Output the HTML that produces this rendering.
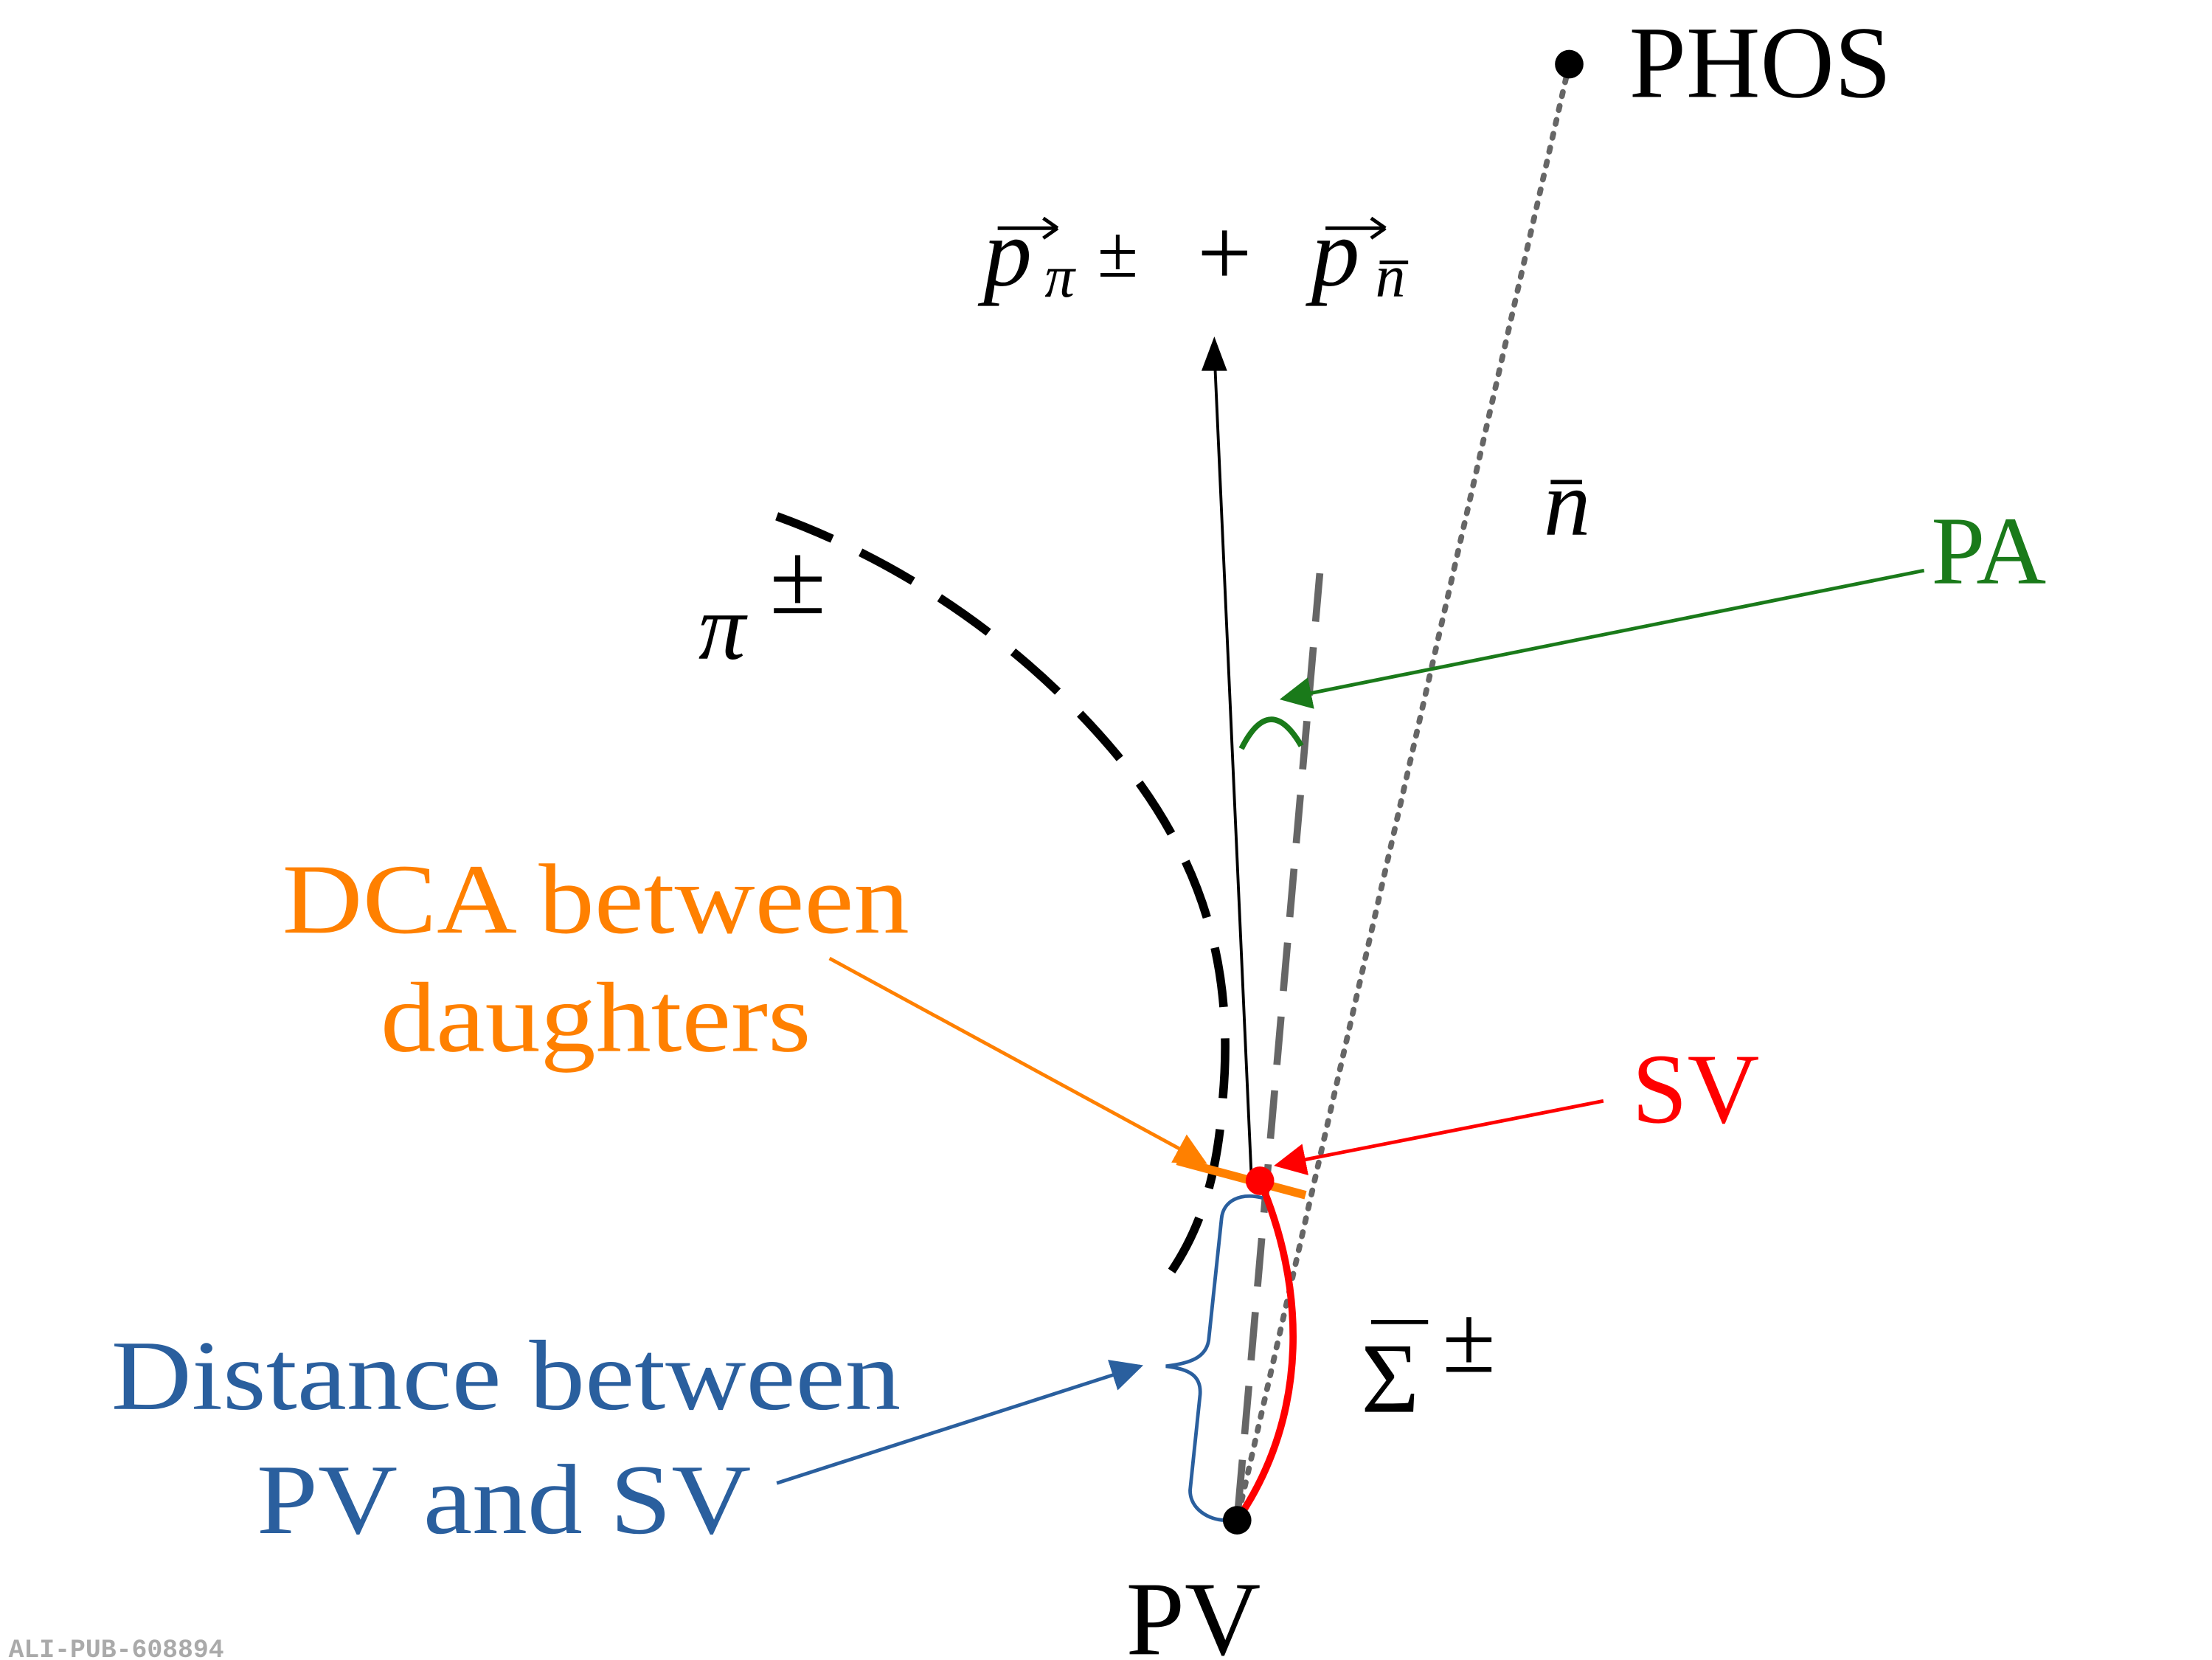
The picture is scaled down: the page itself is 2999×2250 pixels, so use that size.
<!DOCTYPE html>
<html><head><meta charset="utf-8"><style>
html,body{margin:0;padding:0;background:#fff;}
svg{display:block;}
text{font-family:"Liberation Serif",serif;}
</style></head><body>
<svg width="2999" height="2250" viewBox="0 0 1552 1164" preserveAspectRatio="none" xmlns="http://www.w3.org/2000/svg">
<defs>
<marker id="ag" viewBox="0 0 10 10" refX="9" refY="5" markerWidth="9" markerHeight="9" orient="auto"><path d="M0,0 L10,5 L0,10 z" fill="#1a7a1a"/></marker>
<marker id="ao" viewBox="0 0 10 10" refX="9" refY="5" markerWidth="9" markerHeight="9" orient="auto"><path d="M0,0 L10,5 L0,10 z" fill="#ff8000"/></marker>
<marker id="ar" viewBox="0 0 10 10" refX="9" refY="5" markerWidth="9" markerHeight="9" orient="auto"><path d="M0,0 L10,5 L0,10 z" fill="#f00"/></marker>
<marker id="ab" viewBox="0 0 10 10" refX="9" refY="5" markerWidth="9" markerHeight="9" orient="auto"><path d="M0,0 L10,5 L0,10 z" fill="#2a5f9e"/></marker>
</defs>

<line x1="1101" y1="45" x2="868" y2="1066" stroke="#666" stroke-width="4" stroke-dasharray="3,7" stroke-linecap="round"/>
<circle cx="1101" cy="45" r="10" fill="#000"/>
<text x="1143" y="68" font-size="72">PHOS</text>

<line x1="878" y1="825" x2="852" y2="246" stroke="#000" stroke-width="2"/>
<path d="M852,236 L843,260 L861,260 z" fill="#000"/>
<text x="690" y="200" font-size="68" font-style="italic">p</text>
<text x="733" y="208" font-size="42" font-style="italic">π</text>
<text x="770" y="194" font-size="52">±</text>
<text x="840" y="200" font-size="68">+</text>
<text x="920" y="200" font-size="68" font-style="italic">p</text>
<text x="965" y="208" font-size="42" font-style="italic">n</text>
<line x1="968" y1="184" x2="988" y2="184" stroke="#000" stroke-width="2.5"/>
<line x1="700" y1="160" x2="740" y2="160" stroke="#000" stroke-width="2.5"/>
<path d="M742,160 L732,153 M742,160 L732,167" stroke="#000" stroke-width="2.5" fill="none"/>
<line x1="930" y1="160" x2="970" y2="160" stroke="#000" stroke-width="2.5"/>
<path d="M972,160 L962,153 M972,160 L962,167" stroke="#000" stroke-width="2.5" fill="none"/>

<path d="M545,362 C650,400 740,470 800,550 C850,620 865,690 858,770 C854,830 840,870 812,905" fill="none" stroke="#000" stroke-width="6" stroke-dasharray="42,22"/>
<text x="490" y="462" font-size="66" font-style="italic">π</text>
<text x="540" y="430" font-size="72">±</text>

<line x1="926" y1="402" x2="868" y2="1066" stroke="#666" stroke-width="5" stroke-dasharray="34,18"/>
<text x="1083" y="375" font-size="66" font-style="italic">n</text>
<line x1="1088" y1="338" x2="1110" y2="338" stroke="#000" stroke-width="3"/>

<text x="1355" y="409" font-size="68" fill="#1a7a1a">PA</text>
<line x1="1350" y1="400" x2="900" y2="490" stroke="#1a7a1a" stroke-width="2.5" marker-end="url(#ag)"/>
<path d="M871,525 Q891,485 913,523" fill="none" stroke="#1a7a1a" stroke-width="4"/>

<text x="198" y="654" font-size="70" fill="#ff8000" textLength="440" lengthAdjust="spacingAndGlyphs">DCA between</text>
<text x="267" y="737" font-size="70" fill="#ff8000" textLength="302" lengthAdjust="spacingAndGlyphs">daughters</text>
<line x1="582" y1="672" x2="845" y2="815" stroke="#ff8000" stroke-width="2.5" marker-end="url(#ao)"/>
<line x1="826" y1="814" x2="916" y2="838" stroke="#ff8000" stroke-width="6"/>

<text x="1145" y="787" font-size="70" fill="#f00">SV</text>
<line x1="1125" y1="772" x2="896" y2="817" stroke="#f00" stroke-width="2.5" marker-end="url(#ar)"/>
<path d="M884,828 C915,900 920,990 868,1066" fill="none" stroke="#f00" stroke-width="5"/>
<circle cx="884" cy="828" r="10" fill="#f00"/>
<text x="955" y="990" font-size="70">Σ</text>
<text x="1012" y="962" font-size="68">±</text>
<line x1="962" y1="927" x2="1002" y2="927" stroke="#000" stroke-width="3"/>

<path d="M886,840 C870,836 858,842 857,855 L848,940 C846,952 835,956 818,958 C835,960 843,965 842,978 L835,1045 C835,1058 848,1066 860,1066" fill="none" stroke="#2a5f9e" stroke-width="2.5"/>
<text x="78" y="988" font-size="70" fill="#2a5f9e" textLength="554" lengthAdjust="spacingAndGlyphs">Distance between</text>
<text x="180" y="1075" font-size="70" fill="#2a5f9e" textLength="347" lengthAdjust="spacingAndGlyphs">PV and SV</text>
<line x1="545" y1="1040" x2="800" y2="958" stroke="#2a5f9e" stroke-width="2.5" marker-end="url(#ab)"/>

<circle cx="868" cy="1066" r="10" fill="#000"/>
<text x="790" y="1160" font-size="74">PV</text>

<text x="6" y="1162" font-size="18" font-weight="bold" fill="#aaa" style="font-family:'Liberation Mono',monospace">ALI-PUB-608894</text>
</svg>
</body></html>
